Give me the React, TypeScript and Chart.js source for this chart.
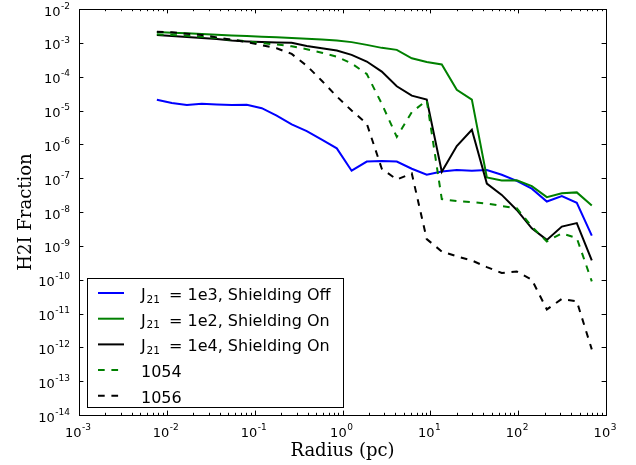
import React, { useEffect, useRef } from 'react';
import { Chart, registerables } from 'chart.js';

Chart.register(...registerables);

// Radius (pc)
const radius = [
  0.0077, 0.0114, 0.0169, 0.025, 0.037, 0.0548, 0.0813, 0.1205, 0.178, 0.264,
  0.392, 0.581, 0.861, 1.27, 1.89, 2.8, 4.15, 6.15, 9.1, 13.5,
  20.0, 29.7, 44.0, 65.0, 96.4, 143, 212, 314, 465, 689,
];

// J21 = 1e3, Shielding Off
const j1e3Off = [
  2.09e-5, 1.66e-5, 1.45e-5, 1.58e-5, 1.51e-5, 1.45e-5, 1.48e-5, 1.17e-5, 7.1e-6, 3.9e-6,
  2.45e-6, 1.38e-6, 7.6e-7, 1.66e-7, 3.1e-7, 3.2e-7, 3.1e-7, 1.9e-7, 1.26e-7, 1.58e-7,
  1.74e-7, 1.66e-7, 1.74e-7, 1.26e-7, 8.3e-8, 4.9e-8, 2.04e-8, 2.95e-8, 1.86e-8, 2.0e-9,
];

// J21 = 1e2, Shielding On
const j1e2On = [
  2.09e-3, 2.0e-3, 1.91e-3, 1.82e-3, 1.74e-3, 1.66e-3, 1.58e-3, 1.51e-3, 1.45e-3, 1.38e-3,
  1.32e-3, 1.26e-3, 1.17e-3, 1.05e-3, 8.7e-4, 7.1e-4, 6.2e-4, 3.5e-4, 2.7e-4, 2.3e-4,
  4.1e-5, 2.1e-5, 1.05e-7, 8.5e-8, 8.7e-8, 5.8e-8, 2.75e-8, 3.6e-8, 3.8e-8, 1.55e-8,
];

// J21 = 1e4, Shielding On
const j1e4On = [
  1.7e-3, 1.58e-3, 1.48e-3, 1.38e-3, 1.29e-3, 1.17e-3, 1.1e-3, 1.05e-3, 1.02e-3, 1.0e-3,
  8.1e-4, 6.9e-4, 5.9e-4, 4.4e-4, 2.8e-4, 1.41e-4, 5.2e-5, 2.75e-5, 2.1e-5, 1.55e-7,
  8.9e-7, 2.7e-6, 6.9e-8, 3.2e-8, 1.15e-8, 3.3e-9, 1.5e-9, 3.7e-9, 4.7e-9, 3.7e-10,
];

// 1054
const run1054 = [
  1.78e-3, 1.7e-3, 1.62e-3, 1.51e-3, 1.38e-3, 1.23e-3, 1.12e-3, 9.8e-4, 8.9e-4, 7.9e-4,
  6.5e-4, 5.1e-4, 3.9e-4, 2.45e-4, 1.2e-4, 1.58e-5, 1.66e-6, 8.9e-6, 2.0e-5, 2.4e-8,
  2.1e-8, 1.95e-8, 1.78e-8, 1.51e-8, 1.29e-8, 3.7e-9, 1.35e-9, 2.35e-9, 1.7e-9, 8.9e-11,
];

// 1056
const run1056 = [
  2.14e-3, 2.04e-3, 1.86e-3, 1.7e-3, 1.45e-3, 1.23e-3, 1.05e-3, 8.5e-4, 6.9e-4, 4.7e-4,
  2.1e-4, 7.6e-5, 2.6e-5, 1.0e-5, 4.1e-6, 1.9e-7, 9.1e-8, 1.38e-7, 1.58e-9, 6.8e-10,
  4.9e-10, 3.7e-10, 2.35e-10, 1.58e-10, 1.74e-10, 1.0e-10, 1.32e-11, 2.7e-11, 2.3e-11, 8.7e-13,
];

const xDecades = [-3, -2, -1, 0, 1, 2, 3];
const yDecades = [-14, -13, -12, -11, -10, -9, -8, -7, -6, -5, -4, -3, -2];

const xTitle = 'Radius (pc)';
const yTitle = 'H2I Fraction';

type Series = { sub: string | null; text: string; values: number[]; color: string; dashed: boolean };
const series: Series[] = [
  { sub: '21', text: '= 1e3, Shielding Off', values: j1e3Off, color: '#0000ff', dashed: false },
  { sub: '21', text: '= 1e2, Shielding On', values: j1e2On, color: '#008000', dashed: false },
  { sub: '21', text: '= 1e4, Shielding On', values: j1e4On, color: '#000000', dashed: false },
  { sub: null, text: '1054', values: run1054, color: '#008000', dashed: true },
  { sub: null, text: '1056', values: run1056, color: '#000000', dashed: true },
];

const SANS = '"DejaVu Sans", sans-serif';
const SERIF = '"DejaVu Serif", serif';
const DASH = [6.7, 6.7];

function powWidth(ctx: CanvasRenderingContext2D, e: number) {
  ctx.font = `13px ${SANS}`;
  const w1 = ctx.measureText('10').width;
  ctx.font = `9px ${SANS}`;
  const w2 = ctx.measureText(String(e)).width;
  return [w1, w2];
}

function drawPow(ctx: CanvasRenderingContext2D, e: number, left: number, baseline: number) {
  const [w1] = powWidth(ctx, e);
  ctx.font = `13px ${SANS}`;
  ctx.textAlign = 'left';
  ctx.textBaseline = 'alphabetic';
  ctx.fillText('10', left, baseline);
  ctx.font = `9px ${SANS}`;
  ctx.fillText(String(e), left + w1 + 0.5, baseline - 6.7);
}

const framePlugin = {
  id: 'mplFrame',
  afterDraw(chart: any) {
    const ctx: CanvasRenderingContext2D = chart.ctx;
    const { left, right, top, bottom } = chart.chartArea;
    const xs = chart.scales.x;
    const ys = chart.scales.y;
    ctx.save();
    ctx.fillStyle = '#000';
    ctx.strokeStyle = '#000';
    ctx.lineWidth = 1;
    ctx.setLineDash([]);
    // frame
    ctx.strokeRect(Math.round(left) + 0.5, Math.round(top) + 0.5, Math.round(right - left), Math.round(bottom - top));
    // ticks
    ctx.beginPath();
    for (const d of xDecades) {
      const x = Math.round(xs.getPixelForValue(Math.pow(10, d))) + 0.5;
      ctx.moveTo(x, bottom); ctx.lineTo(x, bottom - 4.4);
      ctx.moveTo(x, top); ctx.lineTo(x, top + 4.4);
      if (d < 3) {
        for (let k = 2; k <= 9; k++) {
          const xm = Math.round(xs.getPixelForValue(k * Math.pow(10, d))) + 0.5;
          ctx.moveTo(xm, bottom); ctx.lineTo(xm, bottom - 2.2);
          ctx.moveTo(xm, top); ctx.lineTo(xm, top + 2.2);
        }
      }
    }
    for (const d of yDecades) {
      const y = Math.round(ys.getPixelForValue(Math.pow(10, d))) + 0.5;
      ctx.moveTo(left, y); ctx.lineTo(left + 4.4, y);
      ctx.moveTo(right, y); ctx.lineTo(right - 4.4, y);
    }
    ctx.stroke();

    // x tick labels
    for (const d of xDecades) {
      const x = xs.getPixelForValue(Math.pow(10, d));
      const [w1, w2] = powWidth(ctx, d);
      const total = w1 + w2 + 0.5;
      drawPow(ctx, d, x - total / 2 - 1, bottom + 22);
    }
    // y tick labels
    for (const d of yDecades) {
      const y = ys.getPixelForValue(Math.pow(10, d));
      const [w1, w2] = powWidth(ctx, d);
      const total = w1 + w2 + 0.5;
      drawPow(ctx, d, 70 - total, y + 6.5);
    }

    // axis titles
    ctx.font = `18px ${SERIF}`;
    ctx.textAlign = 'center';
    ctx.textBaseline = 'alphabetic';
    ctx.fillText(xTitle, (left + right) / 2, 456);
    ctx.save();
    ctx.translate(31, (top + bottom) / 2);
    ctx.rotate(-Math.PI / 2);
    ctx.fillText(yTitle, 0, 0);
    ctx.restore();

    // legend
    const bx = 87.5, by = 278.5, bw = 256, bh = 129;
    ctx.fillStyle = '#fff';
    ctx.fillRect(bx, by, bw, bh);
    ctx.strokeStyle = '#000';
    ctx.lineWidth = 1;
    ctx.strokeRect(bx, by, bw, bh);
    series.forEach((s, i) => {
      const ry = 293 + i * 25.7;
      ctx.strokeStyle = s.color;
      ctx.lineWidth = 2;
      ctx.setLineDash(s.dashed ? DASH : []);
      ctx.beginPath();
      ctx.moveTo(98, ry);
      ctx.lineTo(124, ry);
      ctx.stroke();
      ctx.setLineDash([]);
      ctx.fillStyle = '#000';
      ctx.textAlign = 'left';
      ctx.textBaseline = 'alphabetic';
      if (s.sub) {
        ctx.font = `16px ${SANS}`;
        ctx.fillText('J', 141, ry + 7);
        ctx.font = `10.5px ${SANS}`;
        ctx.fillText(s.sub, 146.5, ry + 9.5);
        ctx.font = `16px ${SANS}`;
        ctx.fillText(s.text, 169, ry + 7);
      } else {
        ctx.font = `16px ${SANS}`;
        ctx.fillText(s.text, 141, ry + 7);
      }
    });
    ctx.restore();
  },
};

export default function App() {
  const ref = useRef<HTMLCanvasElement>(null);
  useEffect(() => {
    const canvas = ref.current;
    if (!canvas) return;
    const chart = new Chart(canvas, {
      type: 'line',
      data: {
        datasets: series.map((s, i) => ({
          label: s.sub ? `J${s.sub} ${s.text}` : s.text,
          data: radius.map((r, k) => ({ x: r, y: s.values[k] })),
          borderColor: s.color,
          backgroundColor: s.color,
          borderWidth: 2,
          borderDash: s.dashed ? DASH : [],
          pointRadius: 0,
          tension: 0,
          fill: false,
          order: series.length - i,
        })),
      },
      options: {
        animation: false,
        responsive: false,
        devicePixelRatio: 1,
        layout: { padding: { left: 79, right: 30, top: 9, bottom: 50 } },
        scales: {
          x: { type: 'logarithmic', min: 1e-3, max: 1e3, display: false },
          y: { type: 'logarithmic', min: 1e-14, max: 1e-2, display: false },
        },
        plugins: {
          legend: { display: false },
          tooltip: { enabled: false },
        },
      },
      plugins: [framePlugin],
    } as any);
    return () => chart.destroy();
  }, []);
  return (
    <div style={{ position: 'absolute', left: 0, top: 0, width: 636, height: 465, background: '#fff' }}>
      <canvas ref={ref} width={636} height={465} style={{ display: 'block', width: 636, height: 465 }} />
    </div>
  );
}
